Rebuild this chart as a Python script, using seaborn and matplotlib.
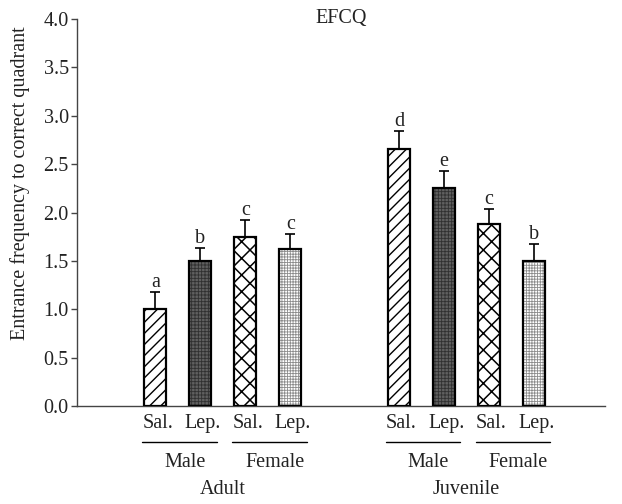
import matplotlib
matplotlib.use("Agg")
import matplotlib.pyplot as plt
from matplotlib.patches import Rectangle
import numpy as np
import pandas as pd
import seaborn as sns

# ---- data ----
ages = ["Adult"] * 4 + ["Juvenile"] * 4
sexes = ["Male", "Male", "Female", "Female"] * 2
treatments = ["Sal.", "Lep."] * 4
means = [1.00, 1.50, 1.75, 1.62, 2.66, 2.25, 1.88, 1.50]
errors = [0.18, 0.13, 0.17, 0.16, 0.18, 0.18, 0.16, 0.17]
letters = ["a", "b", "c", "c", "d", "e", "c", "b"]
yticks = [0.0, 0.5, 1.0, 1.5, 2.0, 2.5, 3.0, 3.5, 4.0]
title = "EFCQ"
ylabel = "Entrance frequency to correct quadrant"

sns.set_style("ticks")
plt.rcParams["font.family"] = ["Liberation Serif", "DejaVu Serif"]
plt.rcParams["hatch.linewidth"] = 1.0
FS = 14.5
TXT = "#222222"

# layout positions
group_gap = 2.42
age_order = ["Adult", "Juvenile"]
pos = []
for i, a in enumerate(ages):
    g = age_order.index(a)
    within = i - 4 * g
    pos.append(within + g * (3 + group_gap))
pos = np.array(pos)

df = pd.DataFrame({"pos": pos, "mean": means, "age": ages, "sex": sexes,
                   "treat": treatments})

fig = plt.figure(figsize=(6.22, 5.04), dpi=100)
ax = fig.add_axes([77 / 622, (504 - 406) / 504, (605 - 77) / 622, 387 / 504])

sns.barplot(data=df, x="pos", y="mean", native_scale=True, width=0.49,
            color="white", saturation=1, edgecolor="black", linewidth=1.5,
            errorbar=None, ax=ax, zorder=2)

styles = [("white", "black", "///", 1.0),
          ("#606060", "#303030", "+++++", 0.6),
          ("white", "black", "xx", 1.1),
          ("white", "#8c8c8c", "++++++", 0.6)]
bars = sorted(ax.patches, key=lambda p: p.get_x())
for i, p in enumerate(bars):
    fc, hc, h, hl = styles[i % 4]
    p.set_facecolor(fc)
    p.set_edgecolor(hc)
    p.set_hatch(h)
    p.set_linewidth(0)
    try:
        p.set_hatch_linewidth(hl)
    except Exception:
        pass
    ax.add_patch(Rectangle(p.get_xy(), p.get_width(), p.get_height(),
                           fill=False, edgecolor="black", linewidth=1.6,
                           zorder=3))

ax.errorbar(pos, means, yerr=[np.zeros(len(means)), errors], fmt="none",
            ecolor="black", elinewidth=1.2, capsize=3.8, capthick=1.2, zorder=1)

for x, m, e, t in zip(pos, means, errors, letters):
    ax.annotate(t, (x, m + e), xytext=(0, 0), textcoords="offset points",
                ha="center", va="bottom", fontsize=FS, color=TXT)

ax.set_ylim(0, 4)
ax.set_xlim(pos[0] - 1.744, pos[-1] + 1.578)
ax.set_yticks(yticks)
ax.set_yticklabels([f"{v:.1f}" for v in yticks], fontsize=FS, color=TXT)
ax.set_xticks([])
ax.set_xlabel("")
ax.set_ylabel(ylabel, fontsize=FS, color=TXT, va="center", ha="center")
ax.yaxis.set_label_coords(-0.108, 0.575)
ax.tick_params(axis="y", direction="out", length=4, width=1, color="#444", pad=2)
for s in ["top", "right"]:
    ax.spines[s].set_visible(False)
for s in ["left", "bottom"]:
    ax.spines[s].set_color("#444")
    ax.spines[s].set_linewidth(1.0)

ax.text(0.5, 1.0, title, transform=ax.transAxes, ha="center", va="center",
        fontsize=FS, color=TXT)

tr = ax.get_xaxis_transform()
for x, t in zip(pos, treatments):
    ax.text(x + 0.05, -0.044, t, transform=tr, ha="center", va="center",
            fontsize=FS, clip_on=False, color=TXT)

for a in age_order:
    for s in ["Male", "Female"]:
        xs = [p for p, aa, ss in zip(pos, ages, sexes) if aa == a and ss == s]
        ax.plot([min(xs) - 0.3, max(xs) + 0.36], [-0.093, -0.093], transform=tr,
                color="black", lw=1.0, clip_on=False)
        ax.text(np.mean(xs) + 0.15, -0.145, s, transform=tr, ha="center",
                va="center", fontsize=FS, clip_on=False, color=TXT)
    xs = [p for p, aa in zip(pos, ages) if aa == a]
    ax.text(np.mean(xs), -0.217, a, transform=tr, ha="center", va="center",
            fontsize=FS, clip_on=False, color=TXT)

fig.savefig("out.png", dpi=100)
